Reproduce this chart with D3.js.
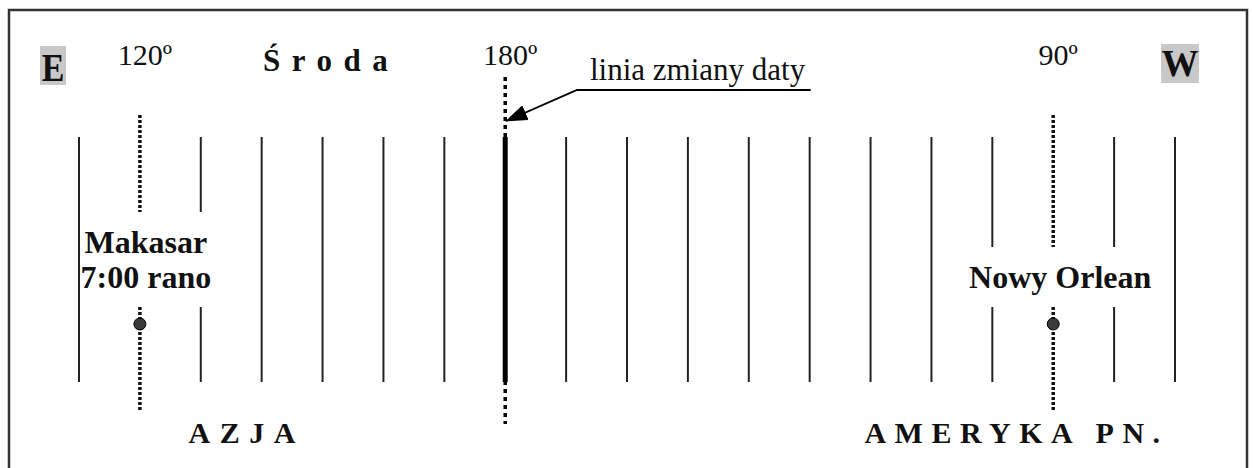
<!DOCTYPE html>
<html>
<head>
<meta charset="utf-8">
<script src="https://cdn.jsdelivr.net/npm/d3@7"></script>
<style>
  body { margin: 0; background: #fff; }
  svg { display: block; }
  text { font-family: "Liberation Serif", "Times New Roman", serif; fill: #111; }
</style>
</head>
<body>
<svg width="1253" height="468"></svg>
<script>
// meridians, in degrees counted eastward from Greenwich (190 = 170W ... 270 = 90W)
var meridians = [110, 120, 130, 140, 150, 160, 170, 180, 190, 200, 210, 220, 230, 240, 250, 260, 270, 280, 290];
var degreeLabels = [
  {lon: 120, text: "120º"},
  {lon: 180, text: "180º"},
  {lon: 270, text: "90º"}
];
var cities = [
  {lon: 120, lines: ["Makasar", "7:00 rano"]},
  {lon: 270, lines: ["Nowy Orlean"]}
];
var dateLine = 180;
var dayName = "Środa";
var dateLineLabel = "linia zmiany daty";
var continents = [
  {text: "AZJA", lon: 128},
  {text: "AMERYKA PN.", lon: 239}
];
var directions = ["E", "W"];

var svg = d3.select("svg"),
    lineTop = 137,
    lineBottom = 382;

var x = d3.scaleLinear().domain([110, 290]).range([79, 1175]);

// frame (bottom edge runs off the picture)
svg.append("path")
    .attr("d", "M9,480 V10 H1247 V480")
    .attr("fill", "none")
    .attr("stroke", "#333")
    .attr("stroke-width", 2.5);

// direction boxes
var dirPos = [{x: 53, y: 65}, {x: 1180, y: 63}];
directions.forEach(function(d, i) {
  var g = svg.append("g").attr("transform", "translate(" + dirPos[i].x + "," + dirPos[i].y + ")");
  g.append("rect")
      .attr("x", i == 0 ? -13 : -19).attr("y", -19)
      .attr("width", i == 0 ? 26 : 38).attr("height", 39)
      .attr("fill", "#c8c8c8");
  g.append("text")
      .attr("text-anchor", "middle")
      .attr("y", 13)
      .attr("transform", i == 0 ? "scale(1,1.2)" : null)
      .attr("font-weight", "bold")
      .attr("font-size", i == 0 ? 34 : 37)
      .text(d);
});

// degree labels
svg.selectAll(".deg")
    .data(degreeLabels)
  .enter().append("text")
    .attr("class", "deg")
    .attr("x", function(d) { return x(d.lon) + 5; })
    .attr("y", 65)
    .attr("text-anchor", "middle")
    .attr("font-size", 30)
    .text(function(d) { return d.text; });

// day name
svg.append("text")
    .attr("x", 263)
    .attr("y", 71)
    .attr("font-weight", "bold")
    .attr("font-size", 31)
    .attr("letter-spacing", 11.5)
    .text(dayName);

// city labels first, so the meridians can break around them
var cityBoxes = [];
cities.forEach(function(c) {
  var t = svg.append("text")
      .attr("text-anchor", "middle")
      .attr("font-weight", "bold")
      .attr("font-size", 32);
  var cx = x(c.lon) + (c.lines.length > 1 ? 6 : 7);
  c.lines.forEach(function(l, j) {
    t.append("tspan")
        .attr("x", cx)
        .attr("y", 288 - (c.lines.length - 1 - j) * 35)
        .text(l);
  });
  var b = t.node().getBBox();
  cityBoxes.push({x0: b.x, x1: b.x + b.width, y0: b.y - 12, y1: b.y + b.height + 12});
});

function gapFor(lon) {
  var px = x(lon);
  for (var i = 0; i < cityBoxes.length; i++) {
    if (px > cityBoxes[i].x0 && px < cityBoxes[i].x1) return cityBoxes[i];
  }
  return null;
}

function segments(lon, y0, y1) {
  var g = gapFor(lon);
  if (!g) return [[y0, y1]];
  return [[y0, g.y0], [g.y1, y1]];
}

var cityLons = cities.map(function(c) { return c.lon; });

// ordinary meridians
var plain = meridians.filter(function(m) { return m != dateLine && cityLons.indexOf(m) < 0; });
plain.forEach(function(m) {
  segments(m, lineTop, lineBottom).forEach(function(s) {
    svg.append("line")
        .attr("x1", x(m)).attr("x2", x(m))
        .attr("y1", s[0]).attr("y2", s[1])
        .attr("stroke", "#222")
        .attr("stroke-width", 2);
  });
});

// city meridians (dotted) with the city dot
cities.forEach(function(c) {
  segments(c.lon, 115, 411).forEach(function(s) {
    svg.append("line")
        .attr("x1", x(c.lon)).attr("x2", x(c.lon))
        .attr("y1", s[0]).attr("y2", s[1])
        .attr("stroke", "#111")
        .attr("stroke-width", 3.5)
        .attr("stroke-dasharray", "3,2");
  });
  svg.append("circle")
      .attr("cx", x(c.lon))
      .attr("cy", 324)
      .attr("r", 6)
      .attr("fill", "#3a3a3a")
      .attr("stroke", "#000")
      .attr("stroke-width", 1);
});

// date line: dotted full length + thick meridian
svg.append("line")
    .attr("x1", x(dateLine)).attr("x2", x(dateLine))
    .attr("y1", 77).attr("y2", 424)
    .attr("stroke", "#000")
    .attr("stroke-width", 3.5)
    .attr("stroke-dasharray", "4,4");
svg.append("line")
    .attr("x1", x(dateLine)).attr("x2", x(dateLine))
    .attr("y1", lineTop).attr("y2", lineBottom)
    .attr("stroke", "#000")
    .attr("stroke-width", 5);

// date line annotation
svg.append("defs").append("marker")
    .attr("id", "arrow")
    .attr("markerUnits", "userSpaceOnUse")
    .attr("viewBox", "0 0 22 16")
    .attr("refX", 21).attr("refY", 8)
    .attr("markerWidth", 22).attr("markerHeight", 16)
    .attr("orient", "auto")
  .append("path")
    .attr("d", "M0,0 L22,8 L0,16 Z")
    .attr("fill", "#000");

var lbl = svg.append("text")
    .attr("x", 590)
    .attr("y", 80)
    .attr("font-size", 31)
    .text(dateLineLabel);
var lb = lbl.node().getBBox();

svg.append("path")
    .attr("d", "M" + (lb.x + lb.width + 5) + ",90 H577 L" + (x(dateLine) + 1) + ",121")
    .attr("fill", "none")
    .attr("stroke", "#000")
    .attr("stroke-width", 1.8)
    .attr("marker-end", "url(#arrow)");

// continents
svg.selectAll(".cont")
    .data(continents)
  .enter().append("text")
    .attr("class", "cont")
    .attr("x", function(d) { return x(d.lon); })
    .attr("y", 443)
    .attr("font-weight", "bold")
    .attr("font-size", 30)
    .attr("letter-spacing", function(d, i) { return i == 0 ? 9.5 : 8.5; })
    .text(function(d) { return d.text; });
</script>
</body>
</html>
